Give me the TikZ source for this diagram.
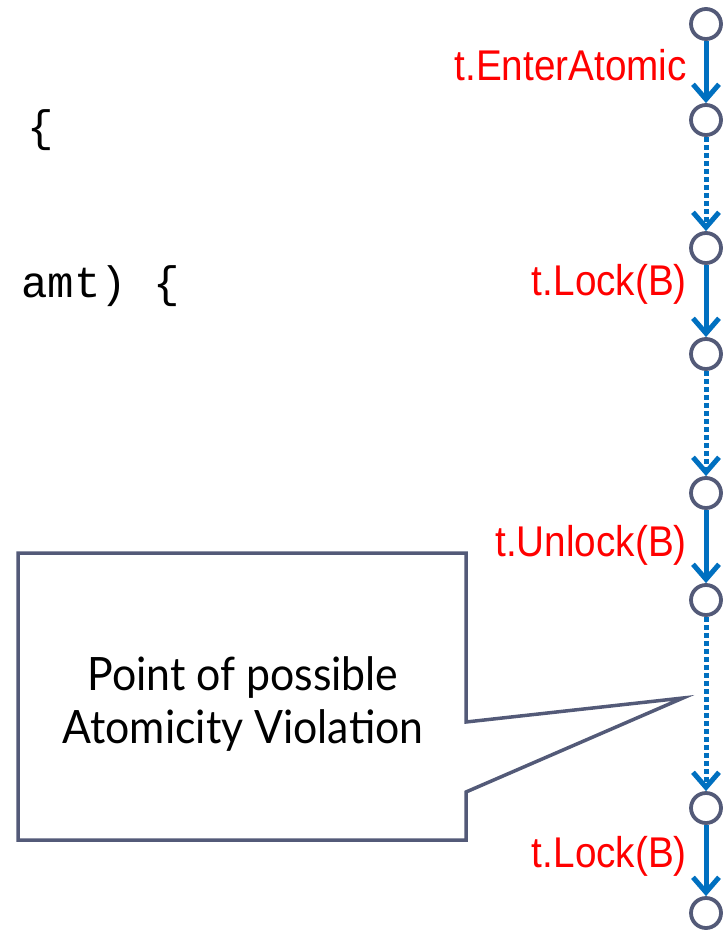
\documentclass[tikz,border=0pt]{standalone}
\usepackage{fontspec}
\newfontfamily\lblfont[FakeStretch=0.9]{Liberation Sans}
\newfontfamily\codefont{Liberation Mono}
\newfontfamily\notefont[FakeStretch=0.93]{Lato}
\usetikzlibrary{arrows.meta}
\definecolor{stategray}{HTML}{535A78}
\definecolor{flowblue}{HTML}{0070C0}
\tikzset{
    state/.style={circle, draw=stategray, line width=3.8pt, fill=white, minimum size=30pt, inner sep=0pt},
    flow/.style={flowblue, line width=5pt, -{Straight Barb[length=15pt,width=26pt]}},
    gap/.style={flow, dash pattern=on 5pt off 3pt},
    act/.style={red, inner sep=0pt, anchor=base east, font=\lblfont\fontsize{43}{50}\selectfont},
    code/.style={inner sep=0pt, anchor=base west, font=\codefont\fontsize{44}{50}\selectfont}
}

\begin{document}
\begin{tikzpicture}[x=1pt,y=-1pt]
\useasboundingbox (0,0) rectangle (723,931);
\foreach \y/\p in {24/s1, 120/s2, 248/s3, 354/s4, 493/s5, 600/s6, 808/s7, 913/s8}{
    \node[state] (\p) at (706,\y) {};
}
\foreach \a/\b/\kind in {s1/s2/flow, s2/s3/gap, s3/s4/flow, s4/s5/gap, s5/s6/flow, s6/s7/gap, s7/s8/flow}{
    \draw[\kind] (\a) -- (\b);
}
\foreach \y/\p/\labeltext in {81/enter/{t.EnterAtomic}, 295/lock1/{t.Lock(B)}, 556/unlock/{t.Unlock(B)}, 867/lock2/{t.Lock(B)}}{
    \node[act] (\p) at (687,\y) {\labeltext};
}
\node[code] (brace) at (27,142) {\{};
\node[code] (amt) at (21,297) {amt) \{};
\draw[stategray, line width=3.5pt, fill=white] (18,553) -- (466,553) -- (466,722) -- (683,698) -- (466,792) -- (466,840) -- (18,840) -- cycle;
\node[align=center, inner sep=0pt, anchor=base, font=\notefont\fontsize{46}{53}\selectfont] (note) at (243,743) {Point of possible\\Atomicity Violation};
\end{tikzpicture}
\end{document}
